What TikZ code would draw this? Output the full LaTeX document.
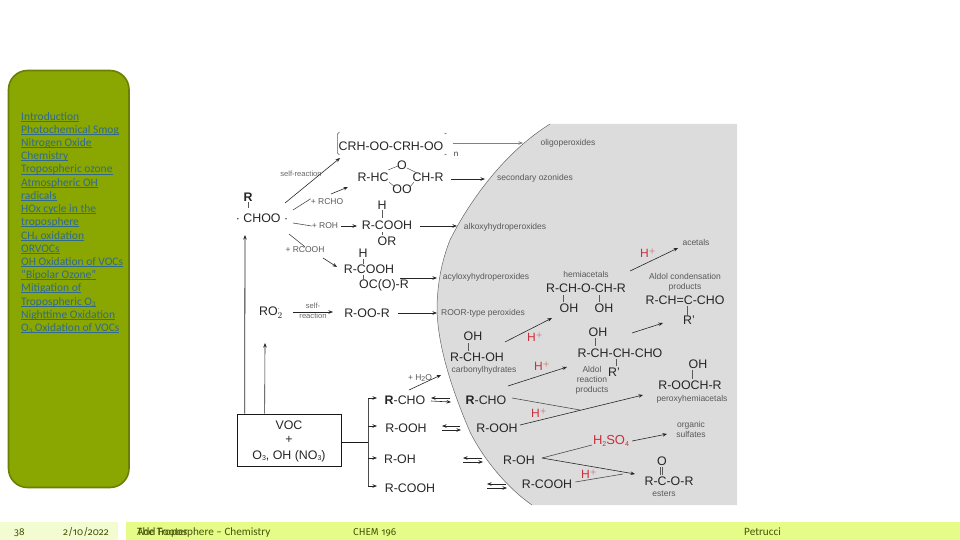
\documentclass[tikz,border=0pt]{standalone}
\usepackage{fontspec}
\setmainfont{Liberation Sans}
\newfontfamily\corb{Carlito}
\newfontfamily\numf[Numbers=OldStyle]{Fira Sans}
\usetikzlibrary{arrows.meta}
\definecolor{side}{HTML}{8AA600}
\definecolor{sideb}{HTML}{6B7F00}
\definecolor{lnk}{HTML}{2F6A90}
\definecolor{foot}{HTML}{E6FC88}
\definecolor{footl}{HTML}{F3FBD0}
\definecolor{foott}{HTML}{46540A}
\definecolor{plate}{HTML}{DCDCDC}
\definecolor{acid}{HTML}{C8303C}
\newcommand\fs[1]{\fontsize{#1}{#1}\selectfont}
\newsavebox\lkbox
\newcommand\lk[1]{\sbox\lkbox{#1}\smash{\rlap{\usebox\lkbox}\rule[-1.6pt]{\wd\lkbox}{.9pt}}}
\newcommand\sbs[1]{\raisebox{-1.5pt}{\fs{7}#1}}
\tikzset{
  x=1pt,y=-1pt,
  chem/.style={inner sep=0pt,font=\fs{12.4},text=black!85},
  bchem/.style={chem,font=\fs{12.4}\bfseries},
  lab/.style={inner sep=0pt,font=\fs{8.5},text=black!65,align=center},
  acidl/.style={inner sep=0pt,font=\fs{12},text=acid},
  arr/.style={draw=black!85,line width=.6pt,-{Stealth[length=4.5pt,width=3.5pt]}},
  arrb/.style={arr,line width=.9pt},
  plain/.style={draw=black!70,line width=.6pt},
  bond/.style={draw=black!65,line width=.5pt},
  menu/.style={inner sep=0pt,anchor=west,yshift=-3.5pt,font=\corb\fs{11.5},text=lnk},
  footer/.style={inner sep=0pt,anchor=base west,font=\corb\fs{11.2},text=foott},
  numfoot/.style={footer,font=\numf\fs{10}},
}
\begin{document}
\begin{tikzpicture}
\useasboundingbox (0,0) rectangle (960,540);
% sidebar
\draw[fill=side,draw=sideb,line width=1.6pt,rounded corners=19pt] (8.5,70.5) rectangle (129,487.5);
\node[menu] (m1) at (21,117) {\lk{Introduction}};
\node[menu] (m2) at (21,130) {\lk{Photochemical Smog}};
\node[menu] (m3) at (21,143) {\lk{Nitrogen Oxide}};
\node[menu] (m4) at (21,156) {\lk{Chemistry}};
\node[menu] (m5) at (21,169.5) {\lk{Tropospheric ozone}};
\node[menu] (m6) at (21,183) {\lk{Atmospheric OH}};
\node[menu] (m7) at (21,196) {\lk{radicals}};
\node[menu] (m8) at (21,209) {\lk{HOx cycle in the}};
\node[menu] (m9) at (21,222) {\lk{troposphere}};
\node[menu] (m10) at (21,235.5) {\lk{CH\sbs{4} oxidation}};
\node[menu] (m11) at (21,249) {\lk{ORVOCs}};
\node[menu] (m12) at (21,262) {\lk{OH Oxidation of VOCs}};
\node[menu] (m13) at (21,275) {\lk{“Bipolar Ozone”}};
\node[menu] (m14) at (21,288) {\lk{Mitigation of}};
\node[menu] (m15) at (21,301.5) {\lk{Tropospheric O\sbs{3}}};
\node[menu] (m16) at (21,315) {\lk{Nighttime Oxidation}};
\node[menu] (m17) at (21,328) {\lk{O\sbs{3} Oxidation of VOCs}};
% footer
\fill[footl] (0,522) rectangle (118,540);
\fill[foot] (126,522) rectangle (960,540);
\node[numfoot] (f1) at (14,535.5) {38};
\node[numfoot] (f2) at (63,535.5) {2/10/2022};
\node[footer] (f3) at (137,535.5) {The Troposphere – Chemistry};
\node[footer] (f4) at (137,535.5) {Add Footer};
\node[numfoot] (f5) at (353,535.5) {CHEM 196};
\node[footer] (f6) at (744,535.5) {Petrucci};
% grey plate
\path[fill=plate] (550,124) .. controls (505,152) and (470,200) .. (450,240)
  .. controls (440,265) and (437,290) .. (437,310)
  .. controls (438,345) and (450,385) .. (470,432)
  .. controls (485,462) and (510,490) .. (532,505)
  -- (737,505) -- (737,124) -- cycle;
\draw[draw=black!60,line width=.5pt] (550,124) .. controls (505,152) and (470,200) .. (450,240)
  .. controls (440,265) and (437,290) .. (437,310)
  .. controls (438,345) and (450,385) .. (470,432)
  .. controls (485,462) and (510,490) .. (532,505);
% chemistry, left
\node[chem] (olig) at (391,146) {CRH-OO-CRH-OO};
\node[inner sep=0pt,font=\fs{8},text=black!80] (nn) at (456,154) {n};
\node[inner sep=0pt,font=\fs{7.6},text=black!60] (selfr) at (301,174) {self-reaction};
\node[chem] (hc) at (373,177) {R-HC};
\node[chem] (oz1) at (402,165) {O};
\node[chem] (chr) at (428,177) {CH-R};
\node[chem] (oz2) at (402,189) {OO};
\node[bchem] (r0) at (248,197) {R};
\node[chem] (choo) at (262,218) {· CHOO ·};
\node[lab] (rcho) at (327,202) {+ RCHO};
\node[chem] (h1) at (382,205) {H};
\node[chem] (cooh1) at (387,225) {R-COOH};
\node[chem] (or1) at (387,241) {OR};
\node[lab] (roh) at (325,226) {+ ROH};
\node[lab] (rcooh) at (305,250) {+ RCOOH};
\node[chem] (h2) at (363,253) {H};
\node[chem] (cooh2) at (369,269) {R-COOH};
\node[chem] (occ) at (384,285) {OC(O)-R};
\node[chem] (ro2) at (271,313) {RO$_2^{\cdot}$};
\node[inner sep=0pt,font=\fs{7.6},text=black!60] (self) at (313,306) {self-};
\node[inner sep=0pt,font=\fs{7.6},text=black!60] (react) at (313,316) {reaction};
\node[chem] (roor) at (367,313) {R-OO-R};
\node[draw=black!90,line width=.7pt,minimum width=104pt,minimum height=52pt,inner sep=0pt] (voc) at (289,440) {};
\node[chem] (v1) at (289,425) {VOC};
\node[chem] (v2) at (289,440) {+};
\node[chem] (v3) at (289,456) {O\sbs{3}, OH (NO\sbs{3})};
\node[chem] (a1) at (405,400) {\textbf{R}-CHO};
\node[chem] (a2) at (406,428) {R-OOH};
\node[chem] (a3) at (400,459) {R-OH};
\node[chem] (a4) at (410,488) {R-COOH};
\node[lab] (h2o) at (420,378) {+ H\sbs{2}O};
% chemistry, plate
\node[lab] (t1) at (568,143) {oligoperoxides};
\node[lab] (t2) at (535,178) {secondary ozonides};
\node[lab] (t3) at (505,227) {alkoxyhydroperoxides};
\node[lab] (t4) at (486,277) {acyloxyhydroperoxides};
\node[lab] (t5) at (483,313) {ROOR-type peroxides};
\node[lab] (acet) at (696,242) {acetals};
\node[acidl] (hp1) at (648,253) {H$^{+}$};
\node[lab] (hemi) at (586,274) {hemiacetals};
\node[chem] (hem) at (586,288) {R-CH-O-CH-R};
\node[chem] (oh1) at (569,308) {OH};
\node[chem] (oh2) at (604,308) {OH};
\node[lab] (aldc) at (685,282) {Aldol condensation\\[1.5pt]products};
\node[chem] (ald) at (685,300) {R-CH=C-CHO};
\node[chem] (rp1) at (689,320) {R'};
\node[acidl] (hp2) at (535,337) {H$^{+}$};
\node[acidl] (hp3) at (542,366) {H$^{+}$};
\node[chem] (oh3) at (473,336) {OH};
\node[chem] (rch) at (477,357) {R-CH-OH};
\node[lab] (carb) at (484,370) {carbonylhydrates};
\node[chem] (oh4) at (598,332) {OH};
\node[chem] (aldr) at (620,353) {R-CH-CH-CHO};
\node[chem] (rp2) at (614,372) {R'};
\node[lab] (aldp) at (592,380) {Aldol\\[1.5pt]reaction\\[1.5pt]products};
\node[chem] (oh5) at (698,364) {OH};
\node[chem] (pox) at (690,385) {R-OOCH-R};
\node[lab] (poxt) at (692,399) {peroxyhemiacetals};
\node[chem] (b1) at (486,400) {\textbf{R}-CHO};
\node[chem] (b2) at (497,428) {R-OOH};
\node[chem] (b3) at (519,460) {R-OH};
\node[chem] (b4) at (547,484) {R-COOH};
\node[acidl] (hp4) at (539,413) {H$^{+}$};
\node[acidl,font=\fs{13}] (hs) at (611,441) {H\sbs{2}SO\sbs{4}};
\node[lab] (orgs) at (691,429.5) {organic\\[1.5pt]sulfates};
\node[acidl] (hp5) at (589,474) {H$^{+}$};
\node[chem] (co) at (662,461) {O};
\node[chem] (est) at (669,481) {R-C-O-R};
\node[lab] (estl) at (664,494) {esters};
% free ends
\coordinate (j1) at (368,442);
\coordinate (j2) at (580,410);
\coordinate (j3) at (623,474);
\coordinate (k1) at (340,158);
\coordinate (k2) at (348,187);
\coordinate (k3) at (337,267);
\coordinate (k4) at (441,375);
\coordinate (k5) at (523,143);
\coordinate (k6) at (485,179);
\coordinate (k7) at (457,226);
\coordinate (k8) at (437,278);
\coordinate (k9) at (437,313);
\coordinate (k10) at (678,248);
\coordinate (k11) at (663,323);
\coordinate (k12) at (552,318);
\coordinate (k13) at (567,367);
\coordinate (k14) at (643,395);
\coordinate (k15) at (667,434);
\coordinate (k16) at (635,474);
\coordinate (k17) at (245,235);
\coordinate (k18) at (265,343);
% brackets
\draw[bond] ([xshift=-1pt]olig.west) ++(2,-14) -- ++(-2,2) -- ++(0,19) -- ++(2,2);
\draw[bond] ([xshift=1pt]olig.east) ++(0,-13) -- ++(2,1);
\draw[bond] ([xshift=1pt]olig.east) ++(0,9) -- ++(2,-1);
% ring and substituent bonds
\draw[bond] (388,170) -- (398,166);
\draw[bond] (407,168) -- (417,173);
\draw[bond] (389,182) -- (395,187);
\draw[bond] (414,182) -- (410,187);
\draw[bond] (r0.south) ++(0,1) -- ++(0,6);
\draw[bond] (h1.south) ++(0,1) -- ++(0,8);
\draw[bond] (h2.south) ++(0,2) -- ++(0,5);
\draw[bond] (363,275) -- (363,280);
\draw[bond] (382,232) -- (382,235);
\draw[bond] (563,295) -- (563,302);
\draw[bond] (599,295) -- (599,302);
\draw[bond] (687,306) -- (687,316);
\draw[bond] (468,343) -- (468,351);
\draw[bond] (595,338) -- (595,346);
\draw[bond] (616,359) -- (616,366);
\draw[bond] (692,370) -- (692,379);
\draw[bond] (660,467) -- (660,475);
\draw[bond] (662.5,467) -- (662.5,475);
% reaction arrows
\draw[arr] (285,203) -- (k1);
\draw[plain] (293,210) -- (rcho.north west);
\draw[arr] (331,194) -- (k2);
\draw[plain] (293,223) -- (roh.west);
\draw[arr] (roh.east) ++(3,0) -- (357,226);
\draw[plain] (289,234) -- (rcooh.north);
\draw[arr] (323,258) -- (k3);
\draw[arr,draw=black!50] (olig.east) ++(9,-3) -- (k5);
\draw[arrb] (chr.east) ++(7,2) -- (k6);
\draw[arr] (cooh1.east) ++(8,1) -- (k7);
\draw[arr] (cooh2.east) ++(6,9) -- (k8);
\draw[arr] (293,312) -- (333,312);
\draw[arr] (roor.east) ++(8,0) -- (k9);
\draw[arr,line width=.8pt] (voc.north west) ++(8,0) -- (k17);
\draw[arr] (voc.north west) ++(28,0) -- (k18);
\draw[line width=.7pt,draw=black!90] (voc.east) ++(0,2) -- (j1);
\draw[plain] (368,398) -- (368,487);
\draw[arr] (368,398) -- (377,398);
\draw[arr] (368,426) -- (377,426);
\draw[arr] (368,458) -- (377,458);
\draw[arr] (368,486) -- (377,486);
\draw[arr] (409,390) -- (k4);
\draw[arr] (450,398) -- (431,398);
\draw[arr] (431,401) -- (451,402);
\draw[arr] (460,426) -- (442,426);
\draw[arr] (442,430) -- (461,430);
\draw[arr] (482,458) -- (463,458);
\draw[arr] (463,462) -- (483,462);
\draw[arr] (506,484) -- (487,484);
\draw[arr] (487,488) -- (507,488);
\draw[arr] (630,271) -- (k10);
\draw[arr] (632,333) -- (k11);
\draw[arr] (505,342) -- (k12);
\draw[arr] (508,386) -- (k13);
\draw[plain] (512,398) -- (j2);
\draw[arr] (520,425) -- (k14);
\draw[arr] (hs.east) ++(3,0) -- (k15);
\draw[plain] (542,458) -- (592,445);
\draw[arr] (542,458) -- (k16);
\draw[plain] (b4.east) ++(3,-2) -- (j3);
\end{tikzpicture}
\end{document}
